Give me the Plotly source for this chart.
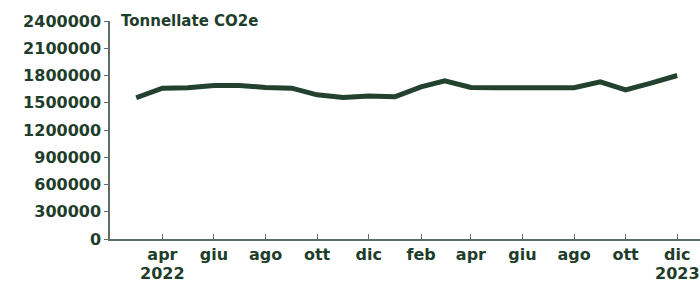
import plotly.graph_objects as go

months = ["2022-03-01","2022-04-01","2022-05-01","2022-06-01","2022-07-01","2022-08-01",
          "2022-09-01","2022-10-01","2022-11-01","2022-12-01","2023-01-01","2023-02-01",
          "2023-03-01","2023-04-01","2023-05-01","2023-06-01","2023-07-01","2023-08-01",
          "2023-09-01","2023-10-01","2023-11-01","2023-12-01"]
emissions = [1555000, 1661000, 1665000, 1690000, 1690000, 1668000,
             1661000, 1587000, 1558000, 1573000, 1565000, 1675000,
             1741000, 1668000, 1665000, 1661000, 1658000, 1665000,
             1730000, 1642000, 1719000, 1800000]

x_tickvals = ["2022-04-01","2022-06-01","2022-08-01","2022-10-01","2022-12-01","2023-02-01",
              "2023-04-01","2023-06-01","2023-08-01","2023-10-01","2023-12-01"]
x_ticktext = ["apr","giu","ago","ott","dic","feb","apr","giu","ago","ott","dic"]
year_labels = ["2022", "2023"]
year_positions = ["2022-04-01", "2023-12-01"]
y_tickvals = [0, 300000, 600000, 900000, 1200000, 1500000, 1800000, 2100000, 2400000]
y_ticktext = [str(v) for v in y_tickvals]
y_title = "Tonnellate CO2e"

ink = "#1f3d2b"
axis_col = "#5f6f64"
font = dict(family="DejaVu Sans", size=16, color=ink, weight="bold")

fig = go.Figure(go.Scatter(x=months, y=emissions, mode="lines",
                           line=dict(color="#22412f", width=5), hoverinfo="skip"))

annotations = [dict(text=y_title, xref="paper", yref="paper", x=0, y=1,
                    xanchor="left", yanchor="middle", xshift=9, showarrow=False,
                    font=dict(family="DejaVu Sans", size=15, color=ink, weight="bold"))]
for lab, pos in zip(year_labels, year_positions):
    annotations.append(dict(text=lab, xref="x", yref="paper", x=pos, y=0,
                            xanchor="center", yanchor="top", yshift=-23, showarrow=False,
                            font=font))

fig.update_layout(
    width=700, height=282,
    margin=dict(l=110, r=0, t=21, b=43),
    paper_bgcolor="white", plot_bgcolor="white",
    showlegend=False,
    font=font,
    xaxis=dict(type="date", range=["2022-01-29", "2023-12-28"],
               tickvals=x_tickvals, ticktext=x_ticktext,
               showgrid=False, zeroline=False, automargin=False,
               showline=True, linecolor=axis_col, linewidth=1.5,
               ticks="inside", ticklen=5, tickcolor=axis_col, tickwidth=1,
               tickfont=font),
    yaxis=dict(range=[0, 2400000], tickvals=y_tickvals, ticktext=y_ticktext,
               showgrid=False, zeroline=False, automargin=False,
               showline=True, linecolor=axis_col, linewidth=1.5,
               ticks="outside", ticklen=4, tickcolor=axis_col, tickwidth=1,
               tickfont=font),
    annotations=annotations,
)

fig.write_html("out.html", config={"displayModeBar": False},
               post_script="document.body.style.margin='0px';document.body.style.overflow='hidden';")
